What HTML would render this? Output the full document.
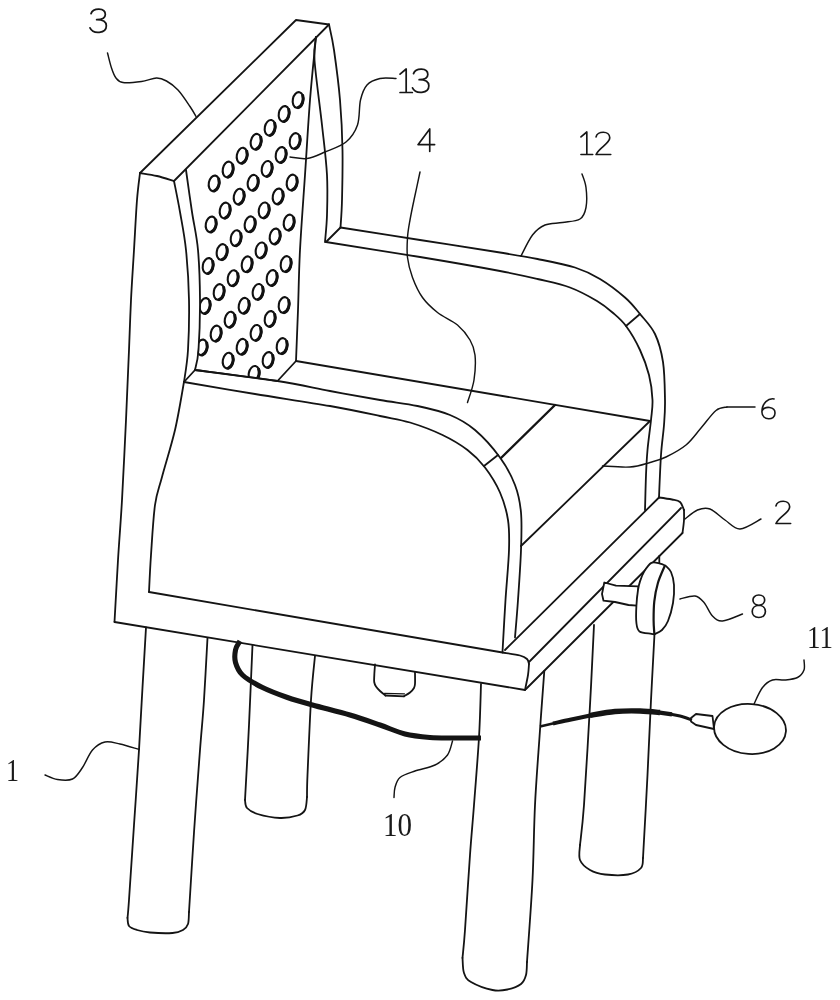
<!DOCTYPE html>
<html><head><meta charset="utf-8"><title>Chair</title>
<style>
html,body{margin:0;padding:0;background:#fff;}
body{width:840px;height:1000px;overflow:hidden;font-family:"Liberation Serif",serif;}
svg{display:block;}
.ln path,.ln ellipse{fill:none;stroke:#141414;stroke-width:1.8;stroke-linecap:round;stroke-linejoin:round;}
.dg path{fill:none;stroke:#161616;stroke-width:1.7;stroke-linecap:round;stroke-linejoin:round;}
.hl ellipse{fill:#fff;stroke:#111;stroke-width:2.1;}
.hl path{fill:none;stroke:#111;stroke-width:3.1;stroke-linecap:round;}
text{font-family:"Liberation Serif",serif;fill:#1a1a1a;}
.tx{filter:grayscale(1);}
</style></head><body>
<svg width="840" height="1000" viewBox="0 0 840 1000">
<rect width="840" height="1000" fill="#ffffff"/>
<defs><clipPath id="pc"><path d="M186,170 C192,212 198,250 200,300 C200,330 198,355 195,370 L277.5,381 L296,361 L316,37 Z"/></clipPath></defs>

<g class="hl" clip-path="url(#pc)">
<g transform="translate(298.0,100.0) rotate(11)"><ellipse cx="0" cy="0" rx="5.2" ry="7.9"/><path d="M3.8,-5.2 A5.2,7.9 0 0 1 1.6,7.4"/></g>
<g transform="translate(284.0,113.9) rotate(11)"><ellipse cx="0" cy="0" rx="5.2" ry="7.9"/><path d="M3.8,-5.2 A5.2,7.9 0 0 1 1.6,7.4"/></g>
<g transform="translate(270.0,127.8) rotate(11)"><ellipse cx="0" cy="0" rx="5.2" ry="7.9"/><path d="M3.8,-5.2 A5.2,7.9 0 0 1 1.6,7.4"/></g>
<g transform="translate(256.0,141.7) rotate(11)"><ellipse cx="0" cy="0" rx="5.2" ry="7.9"/><path d="M3.8,-5.2 A5.2,7.9 0 0 1 1.6,7.4"/></g>
<g transform="translate(242.0,155.6) rotate(11)"><ellipse cx="0" cy="0" rx="5.2" ry="7.9"/><path d="M3.8,-5.2 A5.2,7.9 0 0 1 1.6,7.4"/></g>
<g transform="translate(228.0,169.5) rotate(11)"><ellipse cx="0" cy="0" rx="5.2" ry="7.9"/><path d="M3.8,-5.2 A5.2,7.9 0 0 1 1.6,7.4"/></g>
<g transform="translate(214.0,183.4) rotate(11)"><ellipse cx="0" cy="0" rx="5.2" ry="7.9"/><path d="M3.8,-5.2 A5.2,7.9 0 0 1 1.6,7.4"/></g>
<g transform="translate(295.0,141.0) rotate(11)"><ellipse cx="0" cy="0" rx="5.2" ry="7.9"/><path d="M3.8,-5.2 A5.2,7.9 0 0 1 1.6,7.4"/></g>
<g transform="translate(281.0,154.9) rotate(11)"><ellipse cx="0" cy="0" rx="5.2" ry="7.9"/><path d="M3.8,-5.2 A5.2,7.9 0 0 1 1.6,7.4"/></g>
<g transform="translate(267.0,168.8) rotate(11)"><ellipse cx="0" cy="0" rx="5.2" ry="7.9"/><path d="M3.8,-5.2 A5.2,7.9 0 0 1 1.6,7.4"/></g>
<g transform="translate(253.0,182.7) rotate(11)"><ellipse cx="0" cy="0" rx="5.2" ry="7.9"/><path d="M3.8,-5.2 A5.2,7.9 0 0 1 1.6,7.4"/></g>
<g transform="translate(239.0,196.6) rotate(11)"><ellipse cx="0" cy="0" rx="5.2" ry="7.9"/><path d="M3.8,-5.2 A5.2,7.9 0 0 1 1.6,7.4"/></g>
<g transform="translate(225.0,210.5) rotate(11)"><ellipse cx="0" cy="0" rx="5.2" ry="7.9"/><path d="M3.8,-5.2 A5.2,7.9 0 0 1 1.6,7.4"/></g>
<g transform="translate(211.0,224.4) rotate(11)"><ellipse cx="0" cy="0" rx="5.2" ry="7.9"/><path d="M3.8,-5.2 A5.2,7.9 0 0 1 1.6,7.4"/></g>
<g transform="translate(292.0,182.5) rotate(11)"><ellipse cx="0" cy="0" rx="5.2" ry="7.9"/><path d="M3.8,-5.2 A5.2,7.9 0 0 1 1.6,7.4"/></g>
<g transform="translate(278.0,196.4) rotate(11)"><ellipse cx="0" cy="0" rx="5.2" ry="7.9"/><path d="M3.8,-5.2 A5.2,7.9 0 0 1 1.6,7.4"/></g>
<g transform="translate(264.0,210.3) rotate(11)"><ellipse cx="0" cy="0" rx="5.2" ry="7.9"/><path d="M3.8,-5.2 A5.2,7.9 0 0 1 1.6,7.4"/></g>
<g transform="translate(250.0,224.2) rotate(11)"><ellipse cx="0" cy="0" rx="5.2" ry="7.9"/><path d="M3.8,-5.2 A5.2,7.9 0 0 1 1.6,7.4"/></g>
<g transform="translate(236.0,238.1) rotate(11)"><ellipse cx="0" cy="0" rx="5.2" ry="7.9"/><path d="M3.8,-5.2 A5.2,7.9 0 0 1 1.6,7.4"/></g>
<g transform="translate(222.0,252.0) rotate(11)"><ellipse cx="0" cy="0" rx="5.2" ry="7.9"/><path d="M3.8,-5.2 A5.2,7.9 0 0 1 1.6,7.4"/></g>
<g transform="translate(208.0,265.9) rotate(11)"><ellipse cx="0" cy="0" rx="5.2" ry="7.9"/><path d="M3.8,-5.2 A5.2,7.9 0 0 1 1.6,7.4"/></g>
<g transform="translate(289.0,222.5) rotate(11)"><ellipse cx="0" cy="0" rx="5.2" ry="7.9"/><path d="M3.8,-5.2 A5.2,7.9 0 0 1 1.6,7.4"/></g>
<g transform="translate(275.0,236.4) rotate(11)"><ellipse cx="0" cy="0" rx="5.2" ry="7.9"/><path d="M3.8,-5.2 A5.2,7.9 0 0 1 1.6,7.4"/></g>
<g transform="translate(261.0,250.3) rotate(11)"><ellipse cx="0" cy="0" rx="5.2" ry="7.9"/><path d="M3.8,-5.2 A5.2,7.9 0 0 1 1.6,7.4"/></g>
<g transform="translate(247.0,264.2) rotate(11)"><ellipse cx="0" cy="0" rx="5.2" ry="7.9"/><path d="M3.8,-5.2 A5.2,7.9 0 0 1 1.6,7.4"/></g>
<g transform="translate(233.0,278.1) rotate(11)"><ellipse cx="0" cy="0" rx="5.2" ry="7.9"/><path d="M3.8,-5.2 A5.2,7.9 0 0 1 1.6,7.4"/></g>
<g transform="translate(219.0,292.0) rotate(11)"><ellipse cx="0" cy="0" rx="5.2" ry="7.9"/><path d="M3.8,-5.2 A5.2,7.9 0 0 1 1.6,7.4"/></g>
<g transform="translate(205.0,305.9) rotate(11)"><ellipse cx="0" cy="0" rx="5.2" ry="7.9"/><path d="M3.8,-5.2 A5.2,7.9 0 0 1 1.6,7.4"/></g>
<g transform="translate(286.0,264.0) rotate(11)"><ellipse cx="0" cy="0" rx="5.2" ry="7.9"/><path d="M3.8,-5.2 A5.2,7.9 0 0 1 1.6,7.4"/></g>
<g transform="translate(272.0,277.9) rotate(11)"><ellipse cx="0" cy="0" rx="5.2" ry="7.9"/><path d="M3.8,-5.2 A5.2,7.9 0 0 1 1.6,7.4"/></g>
<g transform="translate(258.0,291.8) rotate(11)"><ellipse cx="0" cy="0" rx="5.2" ry="7.9"/><path d="M3.8,-5.2 A5.2,7.9 0 0 1 1.6,7.4"/></g>
<g transform="translate(244.0,305.7) rotate(11)"><ellipse cx="0" cy="0" rx="5.2" ry="7.9"/><path d="M3.8,-5.2 A5.2,7.9 0 0 1 1.6,7.4"/></g>
<g transform="translate(230.0,319.6) rotate(11)"><ellipse cx="0" cy="0" rx="5.2" ry="7.9"/><path d="M3.8,-5.2 A5.2,7.9 0 0 1 1.6,7.4"/></g>
<g transform="translate(216.0,333.5) rotate(11)"><ellipse cx="0" cy="0" rx="5.2" ry="7.9"/><path d="M3.8,-5.2 A5.2,7.9 0 0 1 1.6,7.4"/></g>
<g transform="translate(202.0,347.4) rotate(11)"><ellipse cx="0" cy="0" rx="5.2" ry="7.9"/><path d="M3.8,-5.2 A5.2,7.9 0 0 1 1.6,7.4"/></g>
<g transform="translate(284.0,305.0) rotate(11)"><ellipse cx="0" cy="0" rx="5.2" ry="7.9"/><path d="M3.8,-5.2 A5.2,7.9 0 0 1 1.6,7.4"/></g>
<g transform="translate(270.0,318.9) rotate(11)"><ellipse cx="0" cy="0" rx="5.2" ry="7.9"/><path d="M3.8,-5.2 A5.2,7.9 0 0 1 1.6,7.4"/></g>
<g transform="translate(256.0,332.8) rotate(11)"><ellipse cx="0" cy="0" rx="5.2" ry="7.9"/><path d="M3.8,-5.2 A5.2,7.9 0 0 1 1.6,7.4"/></g>
<g transform="translate(242.0,346.7) rotate(11)"><ellipse cx="0" cy="0" rx="5.2" ry="7.9"/><path d="M3.8,-5.2 A5.2,7.9 0 0 1 1.6,7.4"/></g>
<g transform="translate(228.0,360.6) rotate(11)"><ellipse cx="0" cy="0" rx="5.2" ry="7.9"/><path d="M3.8,-5.2 A5.2,7.9 0 0 1 1.6,7.4"/></g>
<g transform="translate(282.0,346.0) rotate(11)"><ellipse cx="0" cy="0" rx="5.2" ry="7.9"/><path d="M3.8,-5.2 A5.2,7.9 0 0 1 1.6,7.4"/></g>
<g transform="translate(268.0,359.9) rotate(11)"><ellipse cx="0" cy="0" rx="5.2" ry="7.9"/><path d="M3.8,-5.2 A5.2,7.9 0 0 1 1.6,7.4"/></g>
<g transform="translate(254.0,373.8) rotate(11)"><ellipse cx="0" cy="0" rx="5.2" ry="7.9"/><path d="M3.8,-5.2 A5.2,7.9 0 0 1 1.6,7.4"/></g>
</g>
<g class="ln">
<path d="M140.0,173.0 L296.0,20.0 L329.0,24.5"/>
<path d="M174.0,181.0 L329.0,24.5"/>
<path d="M140.0,173.0 C142.8,173.5 151.3,174.7 157.0,176.0 C162.7,177.3 171.2,180.2 174.0,181.0"/>
<path d="M140.0,173.0 C139.5,177.5 138.0,187.2 137.0,200.0 C136.0,212.8 135.0,233.3 134.0,250.0 C133.0,266.7 131.8,283.3 131.0,300.0 C130.2,316.7 129.8,330.0 129.0,350.0 C128.2,370.0 127.2,395.0 126.0,420.0 C124.8,445.0 123.3,476.7 122.0,500.0 C120.7,523.3 119.2,539.7 118.0,560.0 C116.8,580.3 115.1,611.7 114.5,622.0"/>
<path d="M174.0,181.0 C175.0,186.2 178.0,200.5 180.0,212.0 C182.0,223.5 184.5,235.3 186.0,250.0 C187.5,264.7 188.7,283.3 189.0,300.0 C189.3,316.7 188.8,336.3 188.0,350.0 C187.2,363.7 184.7,376.7 184.0,382.0"/>
<path d="M186.0,170.0 C187.0,177.0 190.0,198.7 192.0,212.0 C194.0,225.3 196.7,235.3 198.0,250.0 C199.3,264.7 199.9,283.3 200.0,300.0 C200.1,316.7 199.3,338.3 198.5,350.0 C197.7,361.7 195.6,366.7 195.0,370.0"/>
<path d="M184.0,382.0 L195.0,370.0"/>
<path d="M184.0,382.0 C182.5,390.0 178.7,414.2 175.0,430.0 C171.3,445.8 165.3,464.5 162.0,477.0 C158.7,489.5 156.8,492.0 155.0,505.0 C153.2,518.0 152.0,540.5 151.0,555.0 C150.0,569.5 149.3,585.8 149.0,592.0"/>
<path d="M329.0,24.5 C329.8,28.8 332.2,37.4 334.0,50.0 C335.8,62.6 338.6,83.3 340.0,100.0 C341.4,116.7 342.2,133.3 342.5,150.0 C342.8,166.7 342.3,187.1 342.0,200.0 C341.7,212.9 340.8,222.9 340.5,227.5"/>
<path d="M316.0,37.0 C315.8,40.8 313.5,45.3 314.5,60.0 C315.5,74.7 319.9,105.8 322.0,125.0 C324.1,144.2 326.2,160.0 327.0,175.0 C327.8,190.0 327.3,203.8 327.0,215.0 C326.7,226.2 325.3,237.5 325.0,242.0"/>
<path d="M316.0,37.0 C315.0,47.5 311.8,77.0 310.0,100.0 C308.2,123.0 306.7,150.0 305.0,175.0 C303.3,200.0 301.2,227.5 300.0,250.0 C298.8,272.5 298.7,291.5 298.0,310.0 C297.3,328.5 296.3,352.5 296.0,361.0"/>
<path d="M340.5,227.5 L326.0,242.0"/>
<path d="M195.0,370.0 L277.5,381.0 L296.0,361.0"/>
<path d="M340.5,227.5 C353.8,229.6 393.4,235.8 420.0,240.0 C446.6,244.2 480.4,249.3 500.0,252.5 C519.6,255.7 525.0,256.5 537.5,259.0 C550.0,261.5 564.6,264.2 575.0,267.5 C585.4,270.8 591.7,274.0 600.0,279.0 C608.3,284.0 618.3,291.7 625.0,297.5 C631.7,303.3 635.0,307.9 640.0,314.0 C645.0,320.1 651.2,326.0 655.0,334.0 C658.8,342.0 661.3,351.0 663.0,362.0 C664.7,373.0 664.8,389.5 665.0,400.0 C665.2,410.5 664.7,415.8 664.0,425.0 C663.3,434.2 661.8,442.9 661.0,455.0 C660.2,467.1 659.3,490.4 659.0,497.5"/>
<path d="M326.0,242.0 C341.7,244.5 391.0,252.2 420.0,257.0 C449.0,261.8 480.4,267.3 500.0,271.0 C519.6,274.7 525.8,276.2 537.5,279.0 C549.2,281.8 560.1,283.8 570.0,287.5 C579.9,291.2 589.9,296.8 597.0,301.0 C604.1,305.2 607.7,308.3 612.5,312.5 C617.3,316.7 621.4,319.8 626.0,326.0 C630.6,332.2 636.2,341.8 640.0,350.0 C643.8,358.2 646.9,366.7 649.0,375.0 C651.1,383.3 652.2,392.5 652.5,400.0 C652.8,407.5 651.8,411.7 651.0,420.0 C650.2,428.3 648.3,440.8 647.5,450.0 C646.7,459.2 646.4,465.0 646.0,475.0 C645.6,485.0 645.2,504.2 645.0,510.0"/>
<path d="M626.0,326.0 L640.0,314.0"/>
<path d="M296.0,361.0 L650.0,421.0"/>
<path d="M555.0,405.0 L501.0,458.0" style="stroke-width:2.4;"/>
<path d="M650.0,421.0 L521.0,546.0"/>
<path d="M195.0,370.0 C208.8,371.8 255.0,377.5 277.5,381.0 C300.0,384.5 312.9,387.8 330.0,391.0 C347.1,394.2 365.4,397.5 380.0,400.0 C394.6,402.5 405.8,403.5 417.5,406.0 C429.2,408.5 440.4,411.0 450.0,415.0 C459.6,419.0 466.7,422.9 475.0,430.0 C483.3,437.1 493.3,448.3 500.0,457.5 C506.7,466.7 511.5,475.8 515.0,485.0 C518.5,494.2 520.0,501.7 521.0,512.5 C522.0,523.3 521.5,535.4 521.0,550.0 C520.5,564.6 519.0,585.4 518.0,600.0 C517.0,614.6 515.5,631.2 515.0,637.5"/>
<path d="M184.0,382.0 C195.8,384.0 230.7,390.0 255.0,394.0 C279.3,398.0 309.2,402.3 330.0,406.0 C350.8,409.7 366.7,413.2 380.0,416.0 C393.3,418.8 399.6,419.3 410.0,422.5 C420.4,425.7 432.9,430.4 442.5,435.0 C452.1,439.6 460.4,444.6 467.5,450.0 C474.6,455.4 479.6,460.4 485.0,467.5 C490.4,474.6 496.2,483.8 500.0,492.5 C503.8,501.2 506.5,510.4 508.0,520.0 C509.5,529.6 509.4,536.7 509.0,550.0 C508.6,563.3 506.6,583.0 505.5,600.0 C504.4,617.0 503.0,643.3 502.5,652.0"/>
<path d="M484.0,466.0 L498.0,455.0"/>
<path d="M149.0,592.0 L502.5,652.5"/>
<path d="M502.5,652.5 C505.4,653.0 515.9,654.4 520.0,655.5 C524.1,656.6 525.5,657.6 527.0,659.0 C528.5,660.4 528.7,663.2 529.0,664.0"/>
<path d="M529.0,664.0 C528.8,665.8 528.7,670.7 528.0,675.0 C527.3,679.3 525.5,687.5 525.0,690.0"/>
<path d="M114.5,622.0 L525.0,690.0"/>
<path d="M505.0,650.0 L659.0,497.5"/>
<path d="M529.0,662.0 L681.0,508.0"/>
<path d="M526.0,689.0 L682.5,533.0"/>
<path d="M659.0,497.5 C661.2,497.8 668.5,498.8 672.0,499.5 C675.5,500.2 678.0,500.2 680.0,502.0 C682.0,503.8 683.3,508.7 684.0,510.0"/>
<path d="M684.0,510.0 C684.0,511.7 684.2,516.2 684.0,520.0 C683.8,523.8 682.8,530.8 682.5,533.0"/>
<path d="M146.0,627.5 C145.4,637.5 143.7,667.1 142.5,687.5 C141.3,707.9 140.4,727.1 139.0,750.0 C137.6,772.9 135.7,800.0 134.0,825.0 C132.3,850.0 130.1,884.5 129.0,900.0 C127.9,915.5 127.8,915.0 127.5,918.0"/>
<path d="M127.5,918.0 C127.8,919.3 127.4,924.0 129.0,926.0 C130.6,928.0 133.5,928.9 137.0,930.0 C140.5,931.1 144.1,932.0 150.0,932.5 C155.9,933.0 167.0,933.4 172.5,933.0 C178.0,932.6 180.4,931.5 183.0,930.0 C185.6,928.5 187.0,927.0 188.0,924.0 C189.0,921.0 188.8,914.0 189.0,912.0"/>
<path d="M189.0,912.0 C189.8,898.8 192.2,859.5 194.0,832.5 C195.8,805.5 198.3,772.1 200.0,750.0 C201.7,727.9 202.8,718.7 204.0,700.0 C205.2,681.3 206.9,648.3 207.5,638.0"/>
<path d="M252.5,645.0 C251.9,658.3 250.2,699.2 249.0,725.0 C247.8,750.8 245.7,787.5 245.0,800.0"/>
<path d="M245.0,800.0 C245.3,801.3 244.9,805.7 247.0,808.0 C249.1,810.3 252.0,812.3 257.5,814.0 C263.0,815.7 273.3,817.8 280.0,818.0 C286.7,818.2 293.3,816.8 297.5,815.5 C301.7,814.2 303.4,813.1 305.0,810.0 C306.6,806.9 306.7,799.2 307.0,797.0"/>
<path d="M307.0,797.0 C307.1,793.3 306.8,791.2 307.5,775.0 C308.2,758.8 309.8,719.8 311.0,700.0 C312.2,680.2 314.3,663.3 315.0,656.0"/>
<path d="M481.0,684.0 C480.7,692.9 480.2,717.3 479.0,737.5 C477.8,757.7 475.5,785.4 474.0,805.0 C472.5,824.6 471.5,834.2 470.0,855.0 C468.5,875.8 466.2,912.8 465.0,930.0 C463.8,947.2 462.9,953.3 462.5,958.0"/>
<path d="M462.5,958.0 C462.8,960.5 462.6,969.0 464.0,973.0 C465.4,977.0 466.2,979.2 471.0,982.0 C475.8,984.8 486.4,988.8 492.5,990.0 C498.6,991.2 502.8,990.5 507.5,989.5 C512.2,988.5 517.9,986.4 521.0,984.0 C524.1,981.6 525.0,978.7 526.0,975.0 C527.0,971.3 526.8,964.2 527.0,962.0"/>
<path d="M527.0,962.0 C527.9,948.3 531.2,906.2 532.5,880.0 C533.8,853.8 533.8,830.0 535.0,805.0 C536.2,780.0 538.5,752.3 540.0,730.0 C541.5,707.7 543.6,680.8 544.3,671.0"/>
<path d="M594.0,625.0 C593.3,638.3 591.7,675.0 590.0,705.0 C588.3,735.0 585.7,781.7 584.0,805.0 C582.3,828.3 580.7,838.3 580.0,845.0"/>
<path d="M580.0,845.0 C580.0,847.5 578.3,855.8 580.0,860.0 C581.7,864.2 585.8,867.6 590.0,870.0 C594.2,872.4 598.7,873.8 605.0,874.5 C611.3,875.2 622.0,875.6 628.0,874.5 C634.0,873.4 638.5,870.8 641.0,868.0 C643.5,865.2 642.7,859.7 643.0,858.0"/>
<path d="M643.0,858.0 C643.8,844.2 646.2,801.3 647.5,775.0 C648.8,748.7 649.8,723.5 651.0,700.0 C652.2,676.5 653.9,645.0 654.5,634.0"/>
<path d="M659.3,556.0 L659.3,564.0"/>
<path d="M638.5,586.4 L616,585.7 L604.3,582.5 L602,594 L603.5,600.7 L615,602 L628.5,605 L637,605.7 Z" style="fill:#fff;"/>
<path d="M665.7,565.7 C664.8,565.4 662.4,564.1 660.0,563.6 C657.6,563.1 654.0,561.6 651.4,562.9 C648.8,564.2 646.2,568.3 644.3,571.4 C642.4,574.5 641.0,578.3 640.0,581.4 C639.0,584.5 638.6,586.0 638.0,590.0 C637.4,594.0 636.7,600.2 636.4,605.7 C636.1,611.2 635.9,618.6 636.4,622.9 C636.9,627.2 637.0,629.6 639.5,631.4 C642.0,633.2 648.9,633.3 651.4,633.8 C653.9,634.3 653.8,634.2 654.3,634.3 L654.3,634.3 C655.6,633.6 659.7,632.2 662.0,630.0 C664.3,627.8 666.2,625.5 668.0,621.0 C669.8,616.5 672.0,609.0 673.0,603.0 C674.0,597.0 674.3,590.2 674.0,585.0 C673.7,579.8 672.4,575.2 671.0,572.0 C669.6,568.8 666.6,566.8 665.7,565.7 Z" style="fill:#fff;"/>
<path d="M664.5,566.5 C663.4,569.2 659.6,577.2 657.9,583.0 C656.2,588.8 655.0,595.2 654.3,601.4 C653.6,607.6 653.6,614.6 653.6,620.0 C653.6,625.4 654.2,631.2 654.3,633.5" style="stroke-width:2.2;"/>
<path d="M375.0,664.5 C374.9,666.2 374.4,672.1 374.3,675.0 C374.2,677.9 373.9,680.1 374.2,682.0 C374.5,683.9 375.0,685.0 376.0,686.5 C377.0,688.0 378.4,689.5 380.0,691.0 C381.6,692.5 384.6,694.8 385.5,695.5"/>
<path d="M385.5,695.5 L404.0,696.3"/>
<path d="M404.0,696.3 C405.0,695.7 408.3,693.9 410.0,692.5 C411.7,691.1 413.2,689.4 414.0,688.0 C414.8,686.6 414.8,686.6 415.0,684.0 C415.2,681.4 415.0,674.4 415.0,672.5"/>
<path d="M384.5,693.3 L404.5,693.8" style="stroke-width:1.2;"/>
<path d="M240.0,641.0 C239.2,642.5 236.2,646.4 235.5,650.0 C234.8,653.6 234.3,658.3 235.5,662.5 C236.7,666.7 238.0,670.8 242.5,675.0 C247.0,679.2 255.0,683.8 262.5,687.5 C270.0,691.2 279.2,694.6 287.5,697.5 C295.8,700.4 302.1,702.1 312.5,705.0 C322.9,707.9 338.8,711.7 350.0,715.0 C361.2,718.3 370.8,721.8 380.0,725.0 C389.2,728.2 396.7,731.9 405.0,734.0 C413.3,736.1 421.7,736.8 430.0,737.5 C438.3,738.2 446.5,737.9 455.0,738.0 C463.5,738.1 476.7,738.0 481.0,738.0" style="stroke-width:5.1;stroke-linecap:butt;"/>
<path d="M540.0,726.5 L555.0,723.0" style="stroke-width:2.6;stroke-linecap:butt;"/>
<path d="M553.0,723.5 C555.8,722.9 563.4,721.1 570.0,719.7 C576.6,718.3 588.8,715.8 592.5,715.0" style="stroke-width:4;stroke-linecap:butt;"/>
<path d="M590.0,715.5 C594.2,714.8 606.7,712.2 615.0,711.5 C623.3,710.8 632.5,710.8 640.0,711.0 C647.5,711.2 656.7,712.2 660.0,712.5" style="stroke-width:5.3;stroke-linecap:butt;"/>
<path d="M658.0,712.3 L672.0,714.3" style="stroke-width:4.2;stroke-linecap:butt;"/>
<path d="M670.0,714.0 C671.7,714.3 676.3,715.0 680.0,716.0 C683.7,717.0 690.0,719.3 692.0,720.0" style="stroke-width:3;stroke-linecap:butt;"/>
<path d="M691.0,718.0 L696.0,714.0 L712.5,716.0 L714.0,729.0 L696.0,725.0 L691.0,721.5"/>
<path d="M107.5,53.0 C108.2,55.5 110.1,63.8 111.5,68.0 C112.9,72.2 114.1,75.6 116.0,78.0 C117.9,80.4 118.8,81.9 123.0,82.5 C127.2,83.1 135.9,82.2 141.5,81.5 C147.1,80.8 152.3,78.1 156.5,78.0 C160.7,77.9 162.9,79.0 166.5,81.0 C170.1,83.0 174.1,85.8 178.0,90.0 C181.9,94.2 187.0,102.1 190.0,106.5 C193.0,110.9 195.0,114.8 196.0,116.5" style="stroke-width:1.45;"/>
<path d="M396.0,78.5 C393.3,78.5 384.8,77.4 380.0,78.5 C375.2,79.6 370.2,81.4 367.0,85.0 C363.8,88.6 362.1,93.3 360.5,100.0 C358.9,106.7 359.9,118.0 357.5,125.0 C355.1,132.0 351.4,137.5 346.0,142.0 C340.6,146.5 331.5,149.2 325.0,152.0 C318.5,154.8 312.8,157.7 307.0,158.5 C301.2,159.3 292.8,157.2 290.0,157.0" style="stroke-width:1.45;"/>
<path d="M420.0,172.0 C419.0,176.7 415.7,192.0 414.0,200.0 C412.3,208.0 411.1,213.8 410.0,220.0 C408.9,226.2 407.9,231.2 407.5,237.5 C407.1,243.8 406.7,250.8 407.5,257.5 C408.3,264.2 410.0,270.8 412.5,277.5 C415.0,284.2 418.3,291.7 422.5,297.5 C426.7,303.3 431.7,307.9 437.5,312.5 C443.3,317.1 452.1,320.4 457.5,325.0 C462.9,329.6 467.1,335.0 470.0,340.0 C472.9,345.0 474.3,348.3 475.0,355.0 C475.7,361.7 475.2,372.1 474.0,380.0 C472.8,387.9 468.6,398.8 467.5,402.5" style="stroke-width:1.45;"/>
<path d="M582.0,174.0 C582.7,176.2 585.3,181.9 586.0,187.5 C586.7,193.1 587.0,202.2 586.0,207.5 C585.0,212.8 583.9,216.5 580.0,219.0 C576.1,221.5 568.3,221.5 562.5,222.5 C556.7,223.5 550.0,222.9 545.0,225.0 C540.0,227.1 536.5,229.8 532.5,235.0 C528.5,240.2 522.9,252.5 521.0,256.0" style="stroke-width:1.45;"/>
<path d="M755.0,407.0 L727.0,407.0" style="stroke-width:1.45;"/>
<path d="M727.0,407.0 C725.2,407.6 720.3,407.0 716.0,410.5 C711.7,414.0 706.0,422.2 701.0,428.0 C696.0,433.8 691.8,440.2 686.0,445.0 C680.2,449.8 672.0,454.1 666.0,457.0 C660.0,459.9 656.0,460.8 650.0,462.5 C644.0,464.2 637.9,466.4 630.0,467.0 C622.1,467.6 607.1,466.2 602.5,466.0" style="stroke-width:1.45;"/>
<path d="M685.0,519.0 C687.1,517.5 693.3,511.7 697.5,510.0 C701.7,508.3 705.4,507.3 710.0,509.0 C714.6,510.7 720.0,516.7 725.0,520.0 C730.0,523.3 734.0,529.2 740.0,529.0 C746.0,528.8 757.5,520.7 761.0,519.0" style="stroke-width:1.45;"/>
<path d="M680.0,599.0 C682.5,598.5 691.0,595.4 695.0,596.0 C699.0,596.6 701.1,599.2 704.0,602.5 C706.9,605.8 709.4,612.9 712.5,616.0 C715.6,619.1 717.5,621.3 722.5,621.0 C727.5,620.7 739.2,615.2 742.5,614.0" style="stroke-width:1.45;"/>
<path d="M804.0,660.0 C804.0,661.7 805.1,667.1 804.0,670.0 C802.9,672.9 800.7,675.8 797.5,677.5 C794.3,679.2 789.2,679.6 785.0,680.0 C780.8,680.4 776.2,678.8 772.5,680.0 C768.8,681.2 765.6,683.5 762.5,687.5 C759.4,691.5 755.4,701.2 754.0,704.0" style="stroke-width:1.45;"/>
<path d="M45.0,775.0 C47.1,775.8 52.9,778.8 57.5,779.5 C62.1,780.2 68.3,781.0 72.5,779.0 C76.7,777.0 79.2,772.3 82.5,767.5 C85.8,762.7 88.8,754.2 92.5,750.0 C96.2,745.8 100.4,743.0 105.0,742.0 C109.6,741.0 114.3,742.8 120.0,744.0 C125.7,745.2 135.8,748.6 139.0,749.5" style="stroke-width:1.45;"/>
<path d="M452.5,741.0 C451.7,743.3 450.4,751.0 447.5,755.0 C444.6,759.0 440.4,762.3 435.0,765.0 C429.6,767.7 420.8,768.9 415.0,771.0 C409.2,773.1 403.3,774.8 400.0,777.5 C396.7,780.2 396.0,784.2 395.0,787.5 C394.0,790.8 394.2,795.8 394.0,797.5" style="stroke-width:1.45;"/>
<ellipse cx="750" cy="729" rx="36" ry="25" transform="rotate(4 750 729)"/>
</g>
<g class="dg"><path transform="translate(90.0,9) scale(1.022)" d="M1,4.5 C3,-1.2 15,-1.8 15,5.5 C15,10 9.5,10.5 6.5,10.5 C11,10.5 16,11.5 16,16.5 C16,24.3 3,25 0,18.5"/>
<path transform="translate(398.0,69) scale(1.022)" d="M2,5 L8,0 L8,23 M2,23 L14,23"/>
<path transform="translate(412.5,69) scale(1.022)" d="M1,4.5 C3,-1.2 15,-1.8 15,5.5 C15,10 9.5,10.5 6.5,10.5 C11,10.5 16,11.5 16,16.5 C16,24.3 3,25 0,18.5"/>
<path transform="translate(418.0,129) scale(0.978)" d="M12,0 L0,16 L17,16 M12,0 L12,23"/>
<path transform="translate(579.0,132) scale(0.978)" d="M2,5 L8,0 L8,23 M2,23 L14,23"/>
<path transform="translate(595.1,132) scale(0.978)" d="M1,5 C2,-1 15,-2 15,6 C15,12 4,16 1,23 L16,23"/>
<path transform="translate(761.0,398) scale(0.935)" d="M14,1 C8,0 1,5 1,15 C1,24 15,25 15,16 C15,9 4,8 1,14"/>
<path transform="translate(775.0,501) scale(0.978)" d="M1,5 C2,-1 15,-2 15,6 C15,12 4,16 1,23 L16,23"/>
<path transform="translate(751.0,595) scale(0.978)" d="M8,10.5 C0,10 0,0 8,0 C16,0 16,10 8,10.5 C-1,11 -1,23 8,23 C17,23 17,11 8,10.5"/></g>
<g class="tx">
<text x="6" y="781" font-size="31" textLength="13" lengthAdjust="spacingAndGlyphs">1</text>
<text x="383" y="836" font-size="33" textLength="29" lengthAdjust="spacingAndGlyphs">10</text>
<text x="807" y="647.5" font-size="31" textLength="26" lengthAdjust="spacingAndGlyphs">11</text>
</g>
</svg></body></html>
